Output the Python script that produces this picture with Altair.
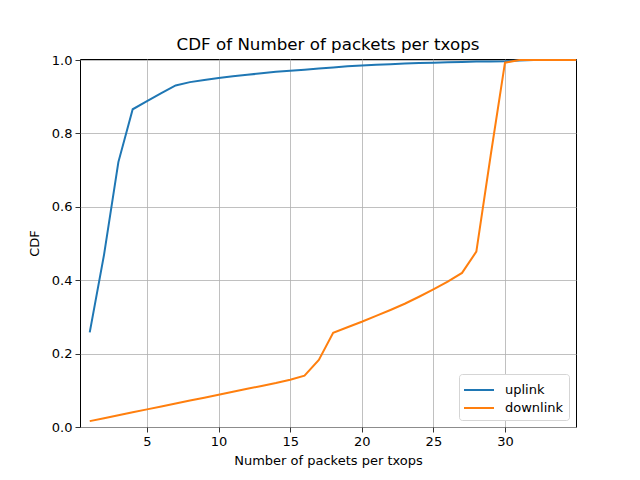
import altair as alt
import pandas as pd

x_vals = list(range(1, 36))
uplink = [0.258, 0.470, 0.722, 0.866, 0.888, 0.910, 0.931, 0.940, 0.946, 0.951,
          0.956, 0.960, 0.964, 0.968, 0.971, 0.974, 0.977, 0.980, 0.983, 0.985,
          0.987, 0.989, 0.991, 0.992, 0.993, 0.994, 0.995, 0.996, 0.996, 0.997,
          0.999, 1.000, 1.000, 1.000, 1.000]
downlink = [0.016, 0.024, 0.032, 0.040, 0.048, 0.056, 0.064, 0.072, 0.080, 0.088,
            0.096, 0.104, 0.112, 0.120, 0.129, 0.140, 0.183, 0.257, 0.272, 0.287,
            0.303, 0.319, 0.336, 0.355, 0.375, 0.396, 0.420, 0.478, 0.740, 0.993,
            1.000, 1.000, 1.000, 1.000, 1.000]
series_names = ["uplink", "downlink"]
series_colors = ["#1f77b4", "#ff7f0e"]
x_ticks = [5, 10, 15, 20, 25, 30]
y_ticks = [0.0, 0.2, 0.4, 0.6, 0.8, 1.0]

rows = []
for name, vals in zip(series_names, [uplink, downlink]):
    for xv, yv in zip(x_vals, vals):
        rows.append({"x": xv, "cdf": yv, "series": name})
df = pd.DataFrame(rows)

FONT = "DejaVu Sans"

chart = alt.Chart(df).mark_line(strokeWidth=2, clip=True).encode(
    x=alt.X("x:Q", scale=alt.Scale(domain=[0.32, 34.96], nice=False, zero=False),
            axis=alt.Axis(values=x_ticks, title="Number of packets per txops")),
    y=alt.Y("cdf:Q", scale=alt.Scale(domain=[0, 1.003], nice=False),
            axis=alt.Axis(values=y_ticks, format=".1f", title="CDF")),
    color=alt.Color("series:N",
                    scale=alt.Scale(domain=series_names, range=series_colors),
                    sort=series_names,
                    legend=alt.Legend(title=None, orient="bottom-right",
                                      symbolType="M-1.5,0H1.5", symbolStrokeWidth=2,
                                      symbolSize=400, symbolOffset=4, labelOffset=15,
                                      fillColor="white", strokeColor="#d5d5d5",
                                      cornerRadius=3, padding=5,
                                      offset=7, labelFontSize=13,
                                      labelFont=FONT, rowPadding=0,
                                      labelColor="#000000")),
    detail="series:N",
).properties(
    width=496, height=368,
    title=alt.TitleParams("CDF of Number of packets per txops", font=FONT,
                          fontSize=16.7, fontWeight="normal", color="#000000",
                          offset=0),
    autosize=alt.AutoSizeParams(type="none"),
    padding={"left": 72, "top": 51, "right": 56, "bottom": 45},
).configure_view(
    stroke="#000000", strokeWidth=1
).configure_axis(
    grid=True, gridColor="#b0b0b0", gridWidth=0.8,
    domain=False, tickColor="#000000", tickSize=5, tickWidth=0.8,
    labelFont=FONT, labelFontSize=13, labelColor="#000000",
    titleFont=FONT, titleFontSize=13, titleFontWeight="normal", titleColor="#000000",
    labelPadding=3,
).configure_axisX(titlePadding=6).configure_axisY(titlePadding=10)

chart.save("out.html", embed_options={"renderer": "svg", "actions": False})
